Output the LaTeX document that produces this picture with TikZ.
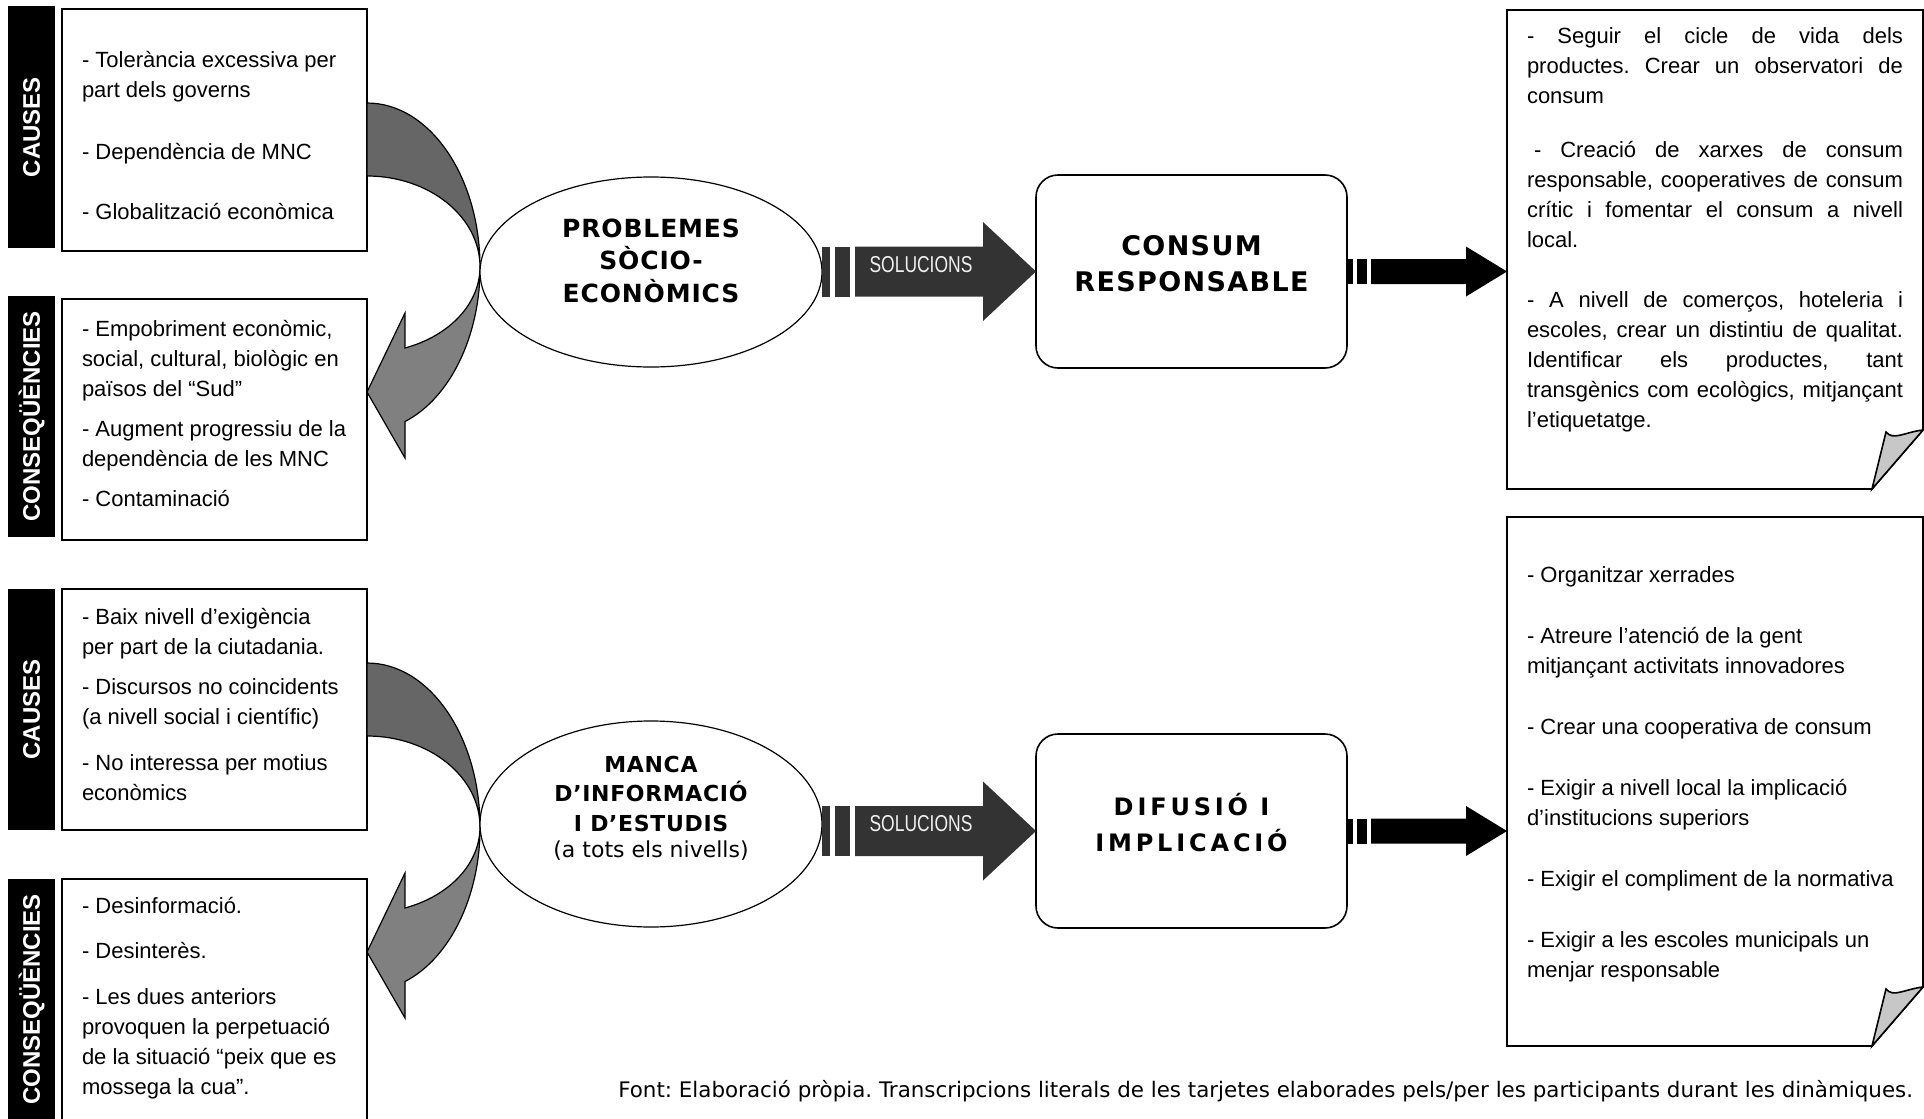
\documentclass[tikz,border=0pt]{standalone}
\usepackage{fontspec}
\usepackage{graphicx}
\setmainfont{Liberation Sans}
\newfontfamily\verd{DejaVu Sans}
\newfontfamily\verdA[LetterSpace=3.5]{DejaVu Sans}
\newfontfamily\verdM[LetterSpace=3]{DejaVu Sans}
\newfontfamily\verdB[LetterSpace=5]{DejaVu Sans}
\newfontfamily\verdC[LetterSpace=16]{DejaVu Sans}
\usetikzlibrary{shapes.geometric,calc}
\frenchspacing
\definecolor{darkg}{gray}{0.4}
\definecolor{lightg}{gray}{0.5}
\definecolor{solf}{gray}{0.2}
\definecolor{flapc}{gray}{0.78}
\newcommand\curvarrow[1]{%
  \filldraw[darkg fill] ($(#1)+(0,-164)$) arc[start angle=-90,end angle=0,x radius=113,y radius=164]
     arc[start angle=0,end angle=-90,x radius=113,y radius=91] -- cycle;
  \filldraw[lightg fill] ($(#1)+(113,0)$) arc[start angle=0,end angle=70.4,x radius=113,y radius=86]
     -- ($(#1)+(38,46)$) -- ($(#1)+(0,125)$) -- ($(#1)+(38,191)$) -- ($(#1)+(38,154.5)$)
     arc[start angle=70.4,end angle=0,x radius=113,y radius=164] -- cycle;}
\newcommand\solarr[2]{%
  \coordinate (sa) at (#1.east |- #2.west);
  \fill[solf] ($(sa)+(0,-25)$) rectangle ($(sa)+(8,25)$);
  \fill[solf] ($(sa)+(13,-25)$) rectangle ($(sa)+(28,25)$);
  \fill[solf] ($(sa)+(33,-25)$) -- ($(#2.west)+(-53,-25)$) -- ($(#2.west)+(-53,-49.5)$) -- (#2.west)
     -- ($(#2.west)+(-53,49.5)$) -- ($(#2.west)+(-53,25)$) -- ($(sa)+(33,25)$) -- cycle;
  \node[soltext] at ($(sa)+(99,-7)$) {\scalebox{0.76}[1]{SOLUCIONS}};}
\newcommand\blkarr[2]{%
  \coordinate (ba) at (#2.west |- #1.east);
  \fill ($(#1.east)+(0,-12.5)$) rectangle ($(#1.east)+(6,12.5)$);
  \fill ($(#1.east)+(10,-12.5)$) rectangle ($(#1.east)+(20,12.5)$);
  \fill ($(#1.east)+(24,-12.5)$) -- ($(ba)+(-41,-12.5)$) -- ($(ba)+(-41,-25)$) -- (ba)
     -- ($(ba)+(-41,25)$) -- ($(ba)+(-41,12.5)$) -- ($(#1.east)+(24,12.5)$) -- cycle;}
\newcommand\drawnote[1]{%
  \draw[line width=0.8pt, fill=white] (#1.north west) -- (#1.north east) -- ($(#1.south east)+(0,-59)$)
     -- ($(#1.south east)+(-51,0)$) -- (#1.south west) -- cycle;
  \filldraw[line width=0.8pt, fill=flapc] ($(#1.south east)+(-51,0)$) -- ($(#1.south east)+(-37,-57)$)
     .. controls ($(#1.south east)+(-30,-48)$) and ($(#1.south east)+(-18,-57)$) .. ($(#1.south east)+(0,-59)$) -- cycle;}
\newcommand\jl[1]{\makebox[\linewidth][s]{#1}}
\begin{document}
\begin{tikzpicture}[x=0.5pt,y=-0.5pt,
  every node/.style={inner sep=0pt, outer sep=0pt},
  textbox/.style={draw, line width=0.9pt, fill=white, minimum width=152.5pt, anchor=north west},
  labbar/.style={fill=black, minimum width=23.5pt, text=white, font=\bfseries\fontsize{12pt}{12pt}\selectfont},
  darkg fill/.style={draw=black, line width=0.6pt, fill=darkg},
  lightg fill/.style={draw=black, line width=0.6pt, fill=lightg},
  oval/.style={ellipse, draw, line width=0.6pt, fill=white, minimum width=171pt},
  rbox/.style={draw, line width=0.8pt, fill=white, rounded corners=11pt, minimum width=155.5pt},
  soltext/.style={text=white!94!black, font=\fontsize{11.5pt}{12pt}\selectfont},
  bt/.style={anchor=base west, font=\fontsize{11pt}{15pt}\selectfont},
  ct/.style={anchor=base}]
\useasboundingbox (0,0) rectangle (1924,1119);
% left boxes
\node[textbox, minimum height=121pt] (b1) at (62,9) {};
\node[textbox, minimum height=120.5pt] (b2) at (62,299) {};
\node[textbox, minimum height=120.5pt] (b3) at (62,589) {};
\node[textbox, minimum height=121pt] (b4) at (62,879) {};
\node[labbar, minimum height=121pt] (l1) at (31.5,127) {\rotatebox{90}{CAUSES}};
\node[labbar, minimum height=120.5pt] (l2) at (31.5,416.5) {\rotatebox{90}{CONSEQÜÈNCIES}};
\node[labbar, minimum height=120.5pt] (l3) at (31.5,709.5) {\rotatebox{90}{CAUSES}};
\node[labbar, minimum height=121pt] (l4) at (31.5,999.5) {\rotatebox{90}{CONSEQÜÈNCIES}};
% curved arrows
\coordinate (ca1) at (367,267);
\coordinate (ca2) at (367,827);
\curvarrow{ca1}
\curvarrow{ca2}
% ellipses and rounded boxes
\node[oval, minimum height=95pt] (e1) at (651,272) {};
\node[oval, minimum height=103pt] (e2) at (651,824) {};
\node[rbox, minimum height=96.5pt] (r1) at (1191.5,271.5) {};
\node[rbox, minimum height=97pt] (r2) at (1191.5,831) {};
% notes
\node[minimum width=208pt, minimum height=239.5pt, anchor=north west] (n1) at (1507,10) {};
\node[minimum width=208pt, minimum height=264.5pt, anchor=north west] (n2) at (1507,517) {};
\drawnote{n1}
\drawnote{n2}
% connectors
\solarr{e1}{r1}
\solarr{e2}{r2}
\blkarr{r1}{n1}
\blkarr{r2}{n2}
% box texts
\node[bt] (t1) at (82,68) {\parbox[t]{145pt}{\raggedright
- Tolerància excessiva per\\ part dels governs\\[16pt]
- Dependència de MNC\\[15pt]
- Globalització econòmica}};
\node[bt] (t2) at (82,336) {\parbox[t]{145pt}{\raggedright
- Empobriment econòmic,\\ social, cultural, biològic en\\ països del “Sud”\\[5pt]
- Augment progressiu de la\\ dependència de les MNC\\[5pt]
- Contaminació}};
\node[bt] (t3) at (82,624) {\parbox[t]{145pt}{\raggedright
- Baix nivell d’exigència\\ per part de la ciutadania.\\[5pt]
- Discursos no coincidents\\ (a nivell social i científic)\\[8pt]
- No interessa per motius\\ econòmics}};
\node[bt] (t4) at (82,913) {\parbox[t]{145pt}{\raggedright
- Desinformació.\\[7.5pt]
- Desinterès.\\[8pt]
- Les dues anteriors\\ provoquen la perpetuació\\ de la situació “peix que es\\ mossega la cua”.}};
% central texts
\node[ct] (et1) at (651,237) {\parbox[t]{200pt}{\centering\verdA\bfseries\fontsize{12.5pt}{16.25pt}\selectfont
PROBLEMES\\ SÒCIO-\\ ECONÒMICS}};
\node[ct] (et2) at (651,772) {\parbox[t]{200pt}{\centering\verdM\bfseries\fontsize{11pt}{14.75pt}\selectfont
MANCA\\ D’INFORMACIÓ\\ I D’ESTUDIS\\[-1.5pt] {\verd\mdseries (a tots els nivells)}}};
\node[ct] (rt1) at (1191.5,255) {\parbox[t]{200pt}{\centering\verdB\bfseries\fontsize{13.5pt}{18pt}\selectfont
CONSUM\\ RESPONSABLE}};
\node[ct] (rt2) at (1191.5,815) {\parbox[t]{200pt}{\centering\verdC\bfseries\fontsize{12pt}{18pt}\selectfont
DIFUSIÓ I\\ IMPLICACIÓ}};
% note texts
\begin{scope}
\clip (1500,0) rectangle (1924,432);
\node[bt, font=\fontsize{11pt}{15pt}\selectfont] (nt1) at (1527,43) {\parbox[t]{188pt}{%
\jl{- Seguir el cicle de vida dels}\\
\jl{productes. Crear un observatori de}\\
consum\\[12.5pt]
\jl{\hspace*{3.5pt}- Creació de xarxes de consum}\\
\jl{responsable, cooperatives de consum}\\
\jl{crític i fomentar el consum a nivell}\\
local.\\[15pt]
\jl{- A nivell de comerços, hoteleria i}\\
\jl{escoles, crear un distintiu de qualitat.}\\
\jl{Identificar els productes, tant}\\
\jl{transgènics com ecològics, mitjançant}\\
l’etiquetatge.}};
\end{scope}
\node[bt] (nt2) at (1527,582) {\parbox[t]{188pt}{\raggedright
- Organitzar xerrades\\[15.5pt]
- Atreure l’atenció de la gent\\ mitjançant activitats innovadores\\[15.5pt]
- Crear una cooperativa de consum\\[15.5pt]
- Exigir a nivell local la implicació\\ d’institucions superiors\\[15.5pt]
- Exigir el compliment de la normativa\\[15.5pt]
- Exigir a les escoles municipals un\\ menjar responsable}};
% footer
\node[anchor=base east, font=\verd\fontsize{10.7pt}{12pt}\selectfont] (foot) at (1913,1097)
 {Font: Elaboració pròpia. Transcripcions literals de les tarjetes elaborades pels/per les participants durant les dinàmiques.};
\end{tikzpicture}
\end{document}
